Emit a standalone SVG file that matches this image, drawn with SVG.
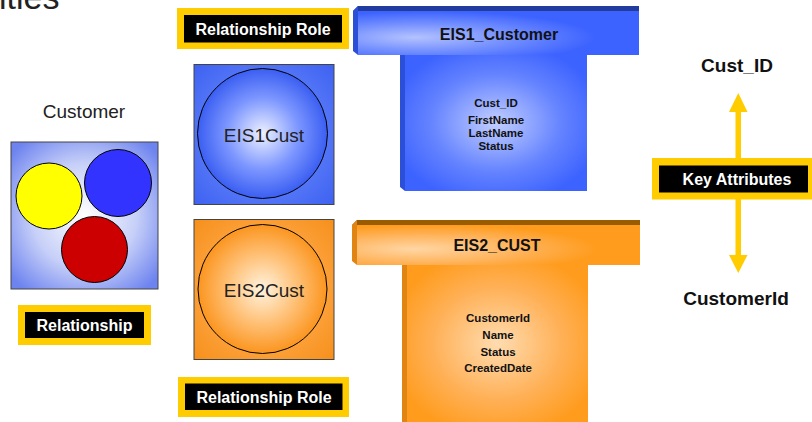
<svg xmlns="http://www.w3.org/2000/svg" width="812" height="422" viewBox="0 0 812 422">
<defs>
<radialGradient id="gRel" cx="50%" cy="50%" r="65%">
<stop offset="0" stop-color="#ffffff"/><stop offset="0.55" stop-color="#c6cff8"/><stop offset="1" stop-color="#6d83ef"/>
</radialGradient>
<radialGradient id="gBlueBox" cx="50%" cy="50%" r="70%">
<stop offset="0" stop-color="#9aaeff"/><stop offset="0.6" stop-color="#5577f7"/><stop offset="1" stop-color="#3e62f2"/>
</radialGradient>
<radialGradient id="gBlueCirc" cx="50%" cy="50%" r="50%">
<stop offset="0" stop-color="#eef1ff"/><stop offset="0.55" stop-color="#7d97ff"/><stop offset="1" stop-color="#3a5ef2"/>
</radialGradient>
<radialGradient id="gOrBox" cx="50%" cy="50%" r="70%">
<stop offset="0" stop-color="#ffc778"/><stop offset="0.6" stop-color="#fca13a"/><stop offset="1" stop-color="#f6901c"/>
</radialGradient>
<radialGradient id="gOrCirc" cx="50%" cy="50%" r="50%">
<stop offset="0" stop-color="#fff3e0"/><stop offset="0.55" stop-color="#ffbf73"/><stop offset="1" stop-color="#fb951f"/>
</radialGradient>
<radialGradient id="gHeadB" cx="25%" cy="60%" r="60%" fx="20%" fy="60%">
<stop offset="0" stop-color="#b4c2ff"/><stop offset="0.6" stop-color="#6a88ff"/><stop offset="1" stop-color="#3c62ff"/>
</radialGradient>
<radialGradient id="gHeadO" cx="25%" cy="60%" r="60%" fx="20%" fy="60%">
<stop offset="0" stop-color="#ffd6a4"/><stop offset="0.6" stop-color="#ffb258"/><stop offset="1" stop-color="#ff9c1e"/>
</radialGradient>
<radialGradient id="gBodyB" cx="50%" cy="50%" r="60%">
<stop offset="0" stop-color="#c2ceff"/><stop offset="0.6" stop-color="#6483ff"/><stop offset="1" stop-color="#3c62ff"/>
</radialGradient>
<radialGradient id="gBodyO" cx="50%" cy="50%" r="60%">
<stop offset="0" stop-color="#ffdcb0"/><stop offset="0.6" stop-color="#ffb056"/><stop offset="1" stop-color="#ff9c1e"/>
</radialGradient>
</defs>
<style>
text{font-family:"Liberation Sans",Arial,sans-serif;}
.lblOut{fill:#ffcc00;}
.lblIn{fill:#000;}
.lblTxt{fill:#fff;font-weight:bold;font-size:16px;text-anchor:middle;}
.hdr{font-weight:bold;font-size:16px;text-anchor:middle;fill:#111;}
.attr{font-weight:bold;font-size:11.5px;text-anchor:middle;fill:#111;}
.key{font-weight:bold;font-size:19px;text-anchor:middle;fill:#111;}
.role{font-size:19px;text-anchor:middle;fill:#222;}
.arr{fill:#ffcc00;}
</style>

<text x="-1" y="9" font-size="34" fill="#222">ities</text>

<g id="customer">
<text x="84" y="118" class="role">Customer</text>
<rect x="11" y="142" width="147" height="147" fill="url(#gRel)" stroke="#444" stroke-width="1"/>
<circle cx="49" cy="196" r="33" fill="#ffff00" stroke="#000" stroke-width="1"/>
<circle cx="118" cy="183" r="33.5" fill="#3333ff" stroke="#000" stroke-width="1"/>
<circle cx="94.5" cy="249.5" r="33" fill="#cc0000" stroke="#000" stroke-width="1"/>
</g>

<g id="label-relationship">
<rect x="18" y="305" width="133" height="40" class="lblOut"/>
<rect x="25" y="312" width="119" height="26" class="lblIn"/>
<text x="84.5" y="331" class="lblTxt">Relationship</text>
</g>

<g id="label-role-top">
<rect x="177" y="8" width="172" height="41" class="lblOut"/>
<rect x="184" y="15" width="158" height="27.5" class="lblIn"/>
<text x="263" y="35" class="lblTxt">Relationship Role</text>
</g>

<g id="eis1cust">
<rect x="194" y="64.5" width="140" height="140" fill="url(#gBlueBox)" stroke="#444" stroke-width="1"/>
<circle cx="262.5" cy="133.5" r="65" fill="url(#gBlueCirc)" stroke="#000" stroke-width="1"/>
<text x="264" y="142" class="role">EIS1Cust</text>
</g>

<g id="eis2cust">
<rect x="194" y="219.5" width="140" height="140" fill="url(#gOrBox)" stroke="#444" stroke-width="1"/>
<circle cx="262.5" cy="289" r="64.5" fill="url(#gOrCirc)" stroke="#000" stroke-width="1"/>
<text x="264" y="297" class="role">EIS2Cust</text>
</g>

<g id="label-role-bottom">
<rect x="178" y="377" width="171" height="40" class="lblOut"/>
<rect x="185" y="383.5" width="157.5" height="26.5" class="lblIn"/>
<text x="264" y="403" class="lblTxt">Relationship Role</text>
</g>

<g id="eis1-customer">
<polygon points="353,11 358,6 639,6 639,11" fill="#223c9e"/>
<polygon points="353,11 358,6 358,55 353,51" fill="#2c4fd8"/>
<rect x="358" y="11" width="281" height="44" fill="url(#gHeadB)"/>
<polygon points="400,55 405,55 405,191 400,187" fill="#2c4fd8"/>
<rect x="405" y="55" width="182" height="136" fill="url(#gBodyB)"/>
<text x="499" y="40" class="hdr">EIS1_Customer</text>
<text x="496" y="107" class="attr">Cust_ID</text>
<text x="496" y="124" class="attr">FirstName</text>
<text x="496" y="137" class="attr">LastName</text>
<text x="496" y="150" class="attr">Status</text>
</g>

<g id="eis2-cust">
<polygon points="352,225 357,220 640,220 640,225" fill="#9a5c00"/>
<polygon points="352,225 357,220 357,265 352,261" fill="#e08414"/>
<rect x="357" y="225" width="283" height="40" fill="url(#gHeadO)"/>
<polygon points="402,265 407,265 407,422 402,422" fill="#e08414"/>
<rect x="407" y="265" width="181" height="157" fill="url(#gBodyO)"/>
<text x="497" y="251" class="hdr">EIS2_CUST</text>
<text x="498" y="322" class="attr" font-size="12">CustomerId</text>
<text x="498" y="338.5" class="attr" font-size="12">Name</text>
<text x="498" y="355.5" class="attr" font-size="12">Status</text>
<text x="498" y="372" class="attr" font-size="12">CreatedDate</text>
</g>

<g id="cust-id">
<text x="737" y="72" class="key">Cust_ID</text>
</g>
<g id="customerid">
<text x="736" y="305" class="key">CustomerId</text>
</g>

<g id="connectors">
<rect x="735.5" y="110" width="5.5" height="49" class="arr"/>
<polygon points="729,112 738.3,93 747.5,112" class="arr"/>
<rect x="735.5" y="199" width="5.5" height="57" class="arr"/>
<polygon points="729,255 747.5,255 738.3,273" class="arr"/>
</g>

<g id="label-key">
<rect x="652" y="158" width="162" height="41.5" class="lblOut"/>
<rect x="659" y="165.5" width="149" height="27" class="lblIn"/>
<text x="737" y="185" class="lblTxt">Key Attributes</text>
</g>
</svg>
